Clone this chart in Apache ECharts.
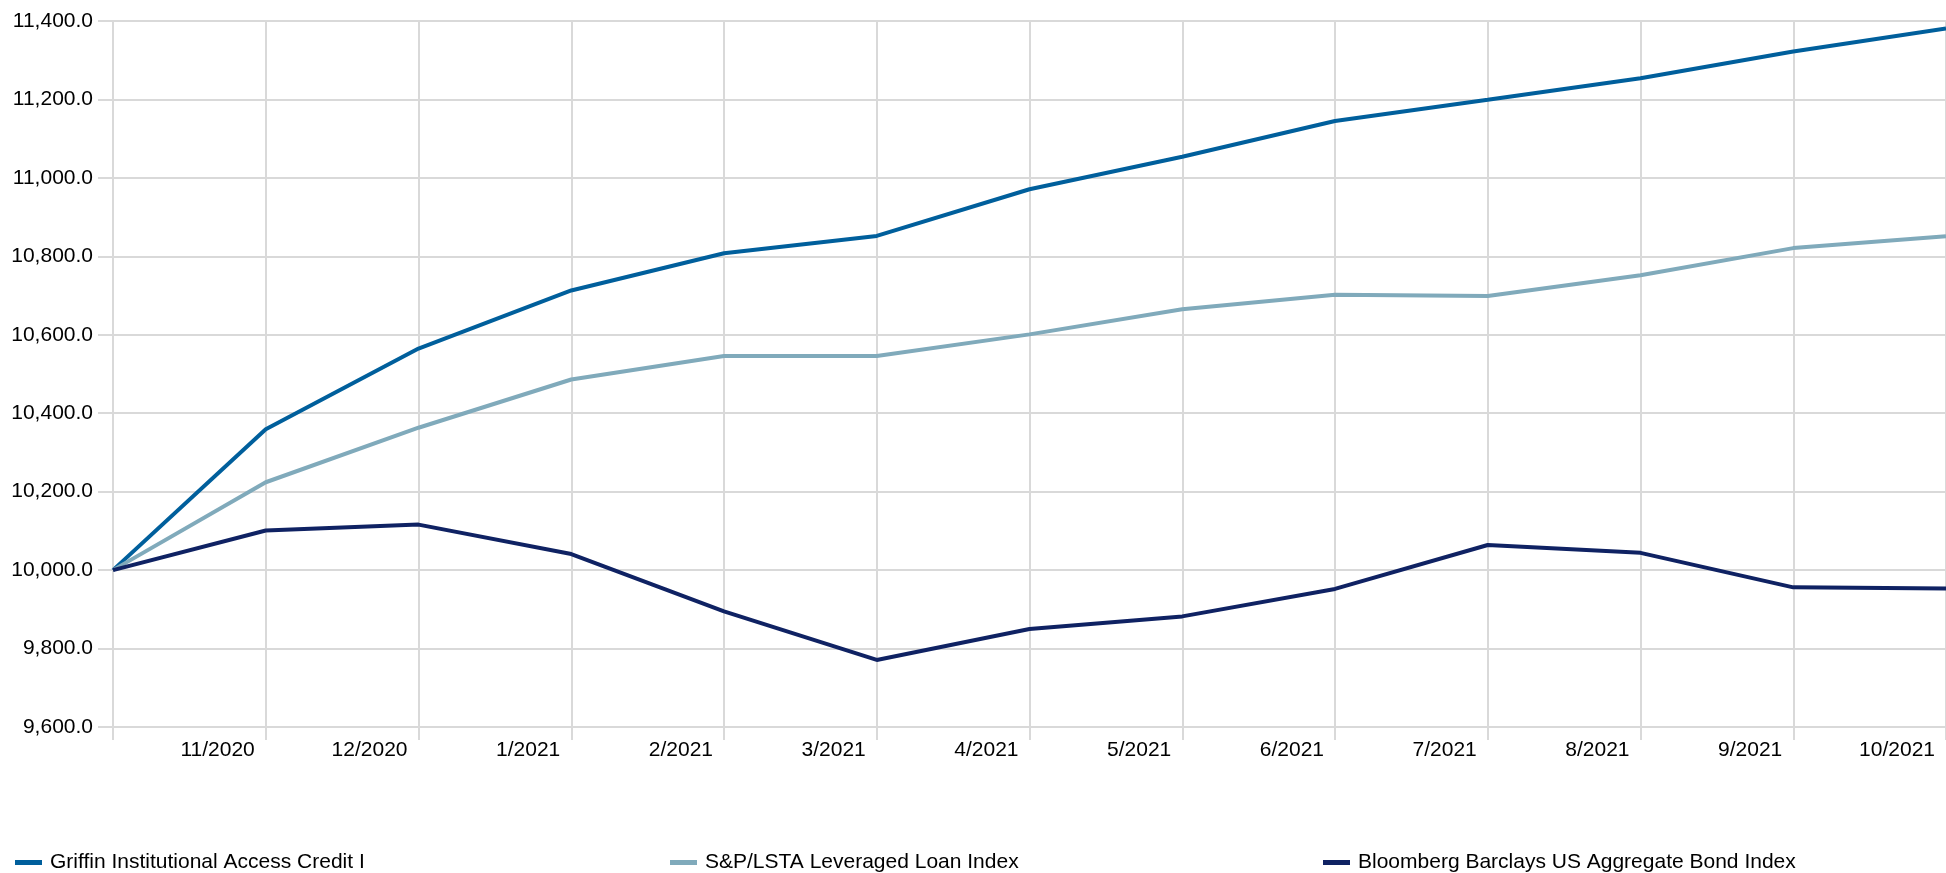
<!DOCTYPE html>
<html>
<head>
<meta charset="utf-8">
<script src="https://cdn.jsdelivr.net/npm/echarts@6/dist/echarts.min.js"></script>
<style>
html,body{margin:0;padding:0;background:#fff;}
#chart{width:1946px;height:873px;}
</style>
</head>
<body>
<div id="chart"></div>
<script>
const categories = ['10/2020','11/2020','12/2020','1/2021','2/2021','3/2021','4/2021','5/2021','6/2021','7/2021','8/2021','9/2021','10/2021'];
const griffin = [10000, 10359, 10565, 10713, 10808, 10852, 10971, 11054, 11145, 11199, 11254, 11322, 11381];
const loanIndex = [10000, 10224, 10363, 10486, 10546, 10546, 10601, 10665, 10702, 10699, 10752, 10821, 10851];
const bondIndex = [10000, 10101, 10116, 10041, 9895, 9771, 9850, 9882, 9952, 10064, 10044, 9956, 9953];
const seriesNames = ['Griffin Institutional Access Credit I', 'S&P/LSTA Leveraged Loan Index', 'Bloomberg Barclays US Aggregate Bond Index'];
const colors = ['#005f9c', '#80aabb', '#0f2263'];

const FONT = "'Liberation Sans', Arial, sans-serif";
const GRID = '#d9d9d9';

const chart = echarts.init(document.getElementById('chart'));
const legendLefts = [10, 665, 1318];
chart.setOption({
  animation: false,
  color: colors,
  grid: { left: 113, top: 21, bottom: 146, right: -4, containLabel: false },
  legend: seriesNames.map((n, i) => ({
    data: [n], left: legendLefts[i], top: 847,
    icon: 'rect', itemWidth: 27, itemHeight: 5, itemGap: 0,
    textStyle: { fontFamily: FONT, fontSize: 21, color: '#000', padding: [0, 0, 0, 3] }
  })),
  xAxis: {
    type: 'category', data: categories, boundaryGap: false,
    axisLine: { show: true, lineStyle: { color: GRID, width: 2 } },
    axisTick: { show: true, length: 13, lineStyle: { color: GRID, width: 2 } },
    splitLine: { show: true, lineStyle: { color: GRID, width: 2 } },
    axisLabel: {
      interval: 0, align: 'right', padding: [0, 11, 0, 0], margin: 13,
      fontFamily: FONT, fontSize: 21, color: '#000',
      formatter: (v, i) => i === 0 ? '' : v
    }
  },
  yAxis: {
    type: 'value', min: 9600, max: 11400, interval: 200,
    axisLine: { show: false },
    axisTick: { show: true, length: 15, lineStyle: { color: GRID, width: 2 } },
    splitLine: { show: true, lineStyle: { color: GRID, width: 2 } },
    axisLabel: {
      margin: 20, fontFamily: FONT, fontSize: 21, color: '#000',
      formatter: v => v.toLocaleString('en-US', { minimumFractionDigits: 1, maximumFractionDigits: 1 })
    }
  },
  series: [griffin, loanIndex, bondIndex].map((d, i) => ({
    name: seriesNames[i], type: 'line', data: d, symbol: 'none',
    lineStyle: { width: 4, color: colors[i] }, itemStyle: { color: colors[i] }
  }))
});
</script>
</body>
</html>
